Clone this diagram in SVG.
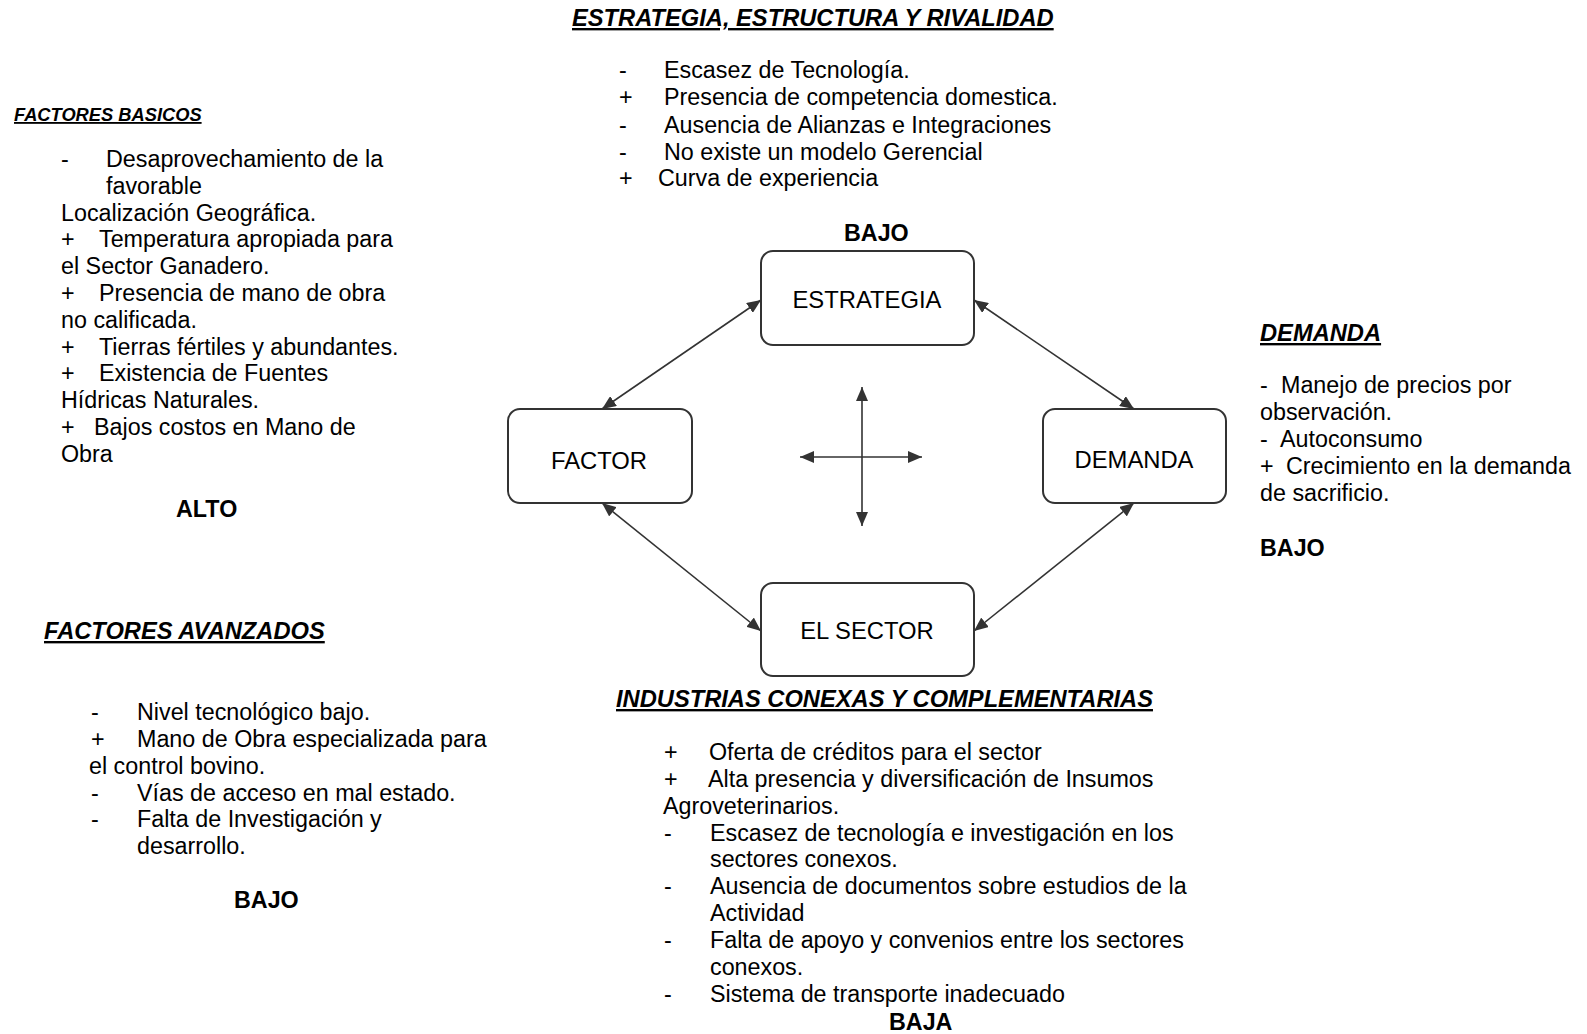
<svg xmlns="http://www.w3.org/2000/svg" width="1587" height="1034" viewBox="0 0 1587 1034">
  <style>
    text { font-family: "Liberation Sans", Arial, sans-serif; fill: #000; }
    .t { font-size: 23.3px; }
    .h { font-size: 23.7px; font-weight: bold; font-style: italic; text-decoration: underline; }
    .hs { font-size: 18.3px; font-weight: bold; font-style: italic; text-decoration: underline; }
    .b { font-size: 23.3px; font-weight: bold; }
    .box { fill: #fff; stroke: #333; stroke-width: 2; }
    .lbl { font-size: 23.8px; text-anchor: middle; }
    .con { stroke: #333; stroke-width: 1.6; fill: none; marker-start: url(#arr); marker-end: url(#arr); }
  </style>
  <defs>
    <marker id="arr" viewBox="0 0 14 12" refX="14" refY="6" markerWidth="14" markerHeight="12" markerUnits="userSpaceOnUse" orient="auto-start-reverse">
      <path d="M0,0 L14,6 L0,12 z" fill="#333"/>
    </marker>
  </defs>

  <rect width="1587" height="1034" fill="#fff"/>

  <!-- connectors -->
  <g id="connectors">
    <line class="con" x1="761" y1="300" x2="602" y2="409"/>
    <line class="con" x1="974" y1="300" x2="1134" y2="409"/>
    <line class="con" x1="602" y1="503" x2="761" y2="631"/>
    <line class="con" x1="1134" y1="503" x2="974" y2="631"/>
    <line class="con" x1="862" y1="387" x2="862" y2="526"/>
    <line class="con" x1="800" y1="457" x2="922" y2="457"/>
  </g>

  <!-- nodes -->
  <g id="node-estrategia">
    <rect class="box" x="761" y="251" width="213" height="94" rx="12"/>
    <text class="lbl" x="867" y="308">ESTRATEGIA</text>
  </g>
  <g id="node-factor">
    <rect class="box" x="508" y="409" width="184" height="94" rx="12"/>
    <text class="lbl" x="599" y="469">FACTOR</text>
  </g>
  <g id="node-demanda">
    <rect class="box" x="1043" y="409" width="183" height="94" rx="12"/>
    <text class="lbl" x="1134" y="468">DEMANDA</text>
  </g>
  <g id="node-sector">
    <rect class="box" x="761" y="583" width="213" height="93" rx="12"/>
    <text class="lbl" x="867" y="639">EL SECTOR</text>
  </g>

  <!-- Estrategia, estructura y rivalidad -->
  <g id="note-estrategia">
    <text class="h" x="572" y="26">ESTRATEGIA, ESTRUCTURA Y RIVALIDAD</text>
    <text class="t" x="619" y="78">-</text><text class="t" x="664" y="78">Escasez de Tecnología.</text>
    <text class="t" x="619" y="105">+</text><text class="t" x="664" y="105">Presencia de competencia domestica.</text>
    <text class="t" x="619" y="133">-</text><text class="t" x="664" y="133">Ausencia de Alianzas e Integraciones</text>
    <text class="t" x="619" y="160">-</text><text class="t" x="664" y="160">No existe un modelo Gerencial</text>
    <text class="t" x="619" y="186">+</text><text class="t" x="658" y="186">Curva de experiencia</text>
    <text class="b" x="844" y="241">BAJO</text>
  </g>

  <!-- Factores basicos -->
  <g id="note-basicos">
    <text class="hs" x="14" y="121">FACTORES BASICOS</text>
    <text class="t" x="61" y="167">-</text><text class="t" x="106" y="167">Desaprovechamiento de la</text>
    <text class="t" x="106" y="194">favorable</text>
    <text class="t" x="61" y="221">Localización Geográfica.</text>
    <text class="t" x="61" y="247">+</text><text class="t" x="99" y="247">Temperatura apropiada para</text>
    <text class="t" x="61" y="274">el Sector Ganadero.</text>
    <text class="t" x="61" y="301">+</text><text class="t" x="99" y="301">Presencia de mano de obra</text>
    <text class="t" x="61" y="328">no calificada.</text>
    <text class="t" x="61" y="355">+</text><text class="t" x="99" y="355">Tierras fértiles y abundantes.</text>
    <text class="t" x="61" y="381">+</text><text class="t" x="99" y="381">Existencia de Fuentes</text>
    <text class="t" x="61" y="408">Hídricas Naturales.</text>
    <text class="t" x="61" y="435">+</text><text class="t" x="94" y="435">Bajos costos en Mano de</text>
    <text class="t" x="61" y="462">Obra</text>
    <text class="b" x="176" y="517">ALTO</text>
  </g>

  <!-- Demanda -->
  <g id="note-demanda">
    <text class="h" x="1260" y="341">DEMANDA</text>
    <text class="t" x="1260" y="393">-</text><text class="t" x="1281" y="393">Manejo de precios por</text>
    <text class="t" x="1260" y="420">observación.</text>
    <text class="t" x="1260" y="447">-</text><text class="t" x="1280" y="447">Autoconsumo</text>
    <text class="t" x="1260" y="474">+</text><text class="t" x="1286" y="474">Crecimiento en la demanda</text>
    <text class="t" x="1260" y="501">de sacrificio.</text>
    <text class="b" x="1260" y="556">BAJO</text>
  </g>

  <!-- Factores avanzados -->
  <g id="note-avanzados">
    <text class="h" x="44" y="639">FACTORES AVANZADOS</text>
    <text class="t" x="91" y="720">-</text><text class="t" x="137" y="720">Nivel tecnológico bajo.</text>
    <text class="t" x="91" y="747">+</text><text class="t" x="137" y="747">Mano de Obra especializada para</text>
    <text class="t" x="89" y="774">el control bovino.</text>
    <text class="t" x="91" y="801">-</text><text class="t" x="137" y="801">Vías de acceso en mal estado.</text>
    <text class="t" x="91" y="827">-</text><text class="t" x="137" y="827">Falta de Investigación y</text>
    <text class="t" x="137" y="854">desarrollo.</text>
    <text class="b" x="234" y="908">BAJO</text>
  </g>

  <!-- Industrias conexas y complementarias -->
  <g id="note-industrias">
    <text class="h" x="616" y="707">INDUSTRIAS CONEXAS Y COMPLEMENTARIAS</text>
    <text class="t" x="664" y="760">+</text><text class="t" x="709" y="760">Oferta de créditos para el sector</text>
    <text class="t" x="664" y="787">+</text><text class="t" x="708" y="787">Alta presencia y diversificación de Insumos</text>
    <text class="t" x="663" y="814">Agroveterinarios.</text>
    <text class="t" x="664" y="841">-</text><text class="t" x="710" y="841">Escasez de tecnología e investigación en los</text>
    <text class="t" x="710" y="867">sectores conexos.</text>
    <text class="t" x="664" y="894">-</text><text class="t" x="710" y="894">Ausencia de documentos sobre estudios de la</text>
    <text class="t" x="710" y="921">Actividad</text>
    <text class="t" x="664" y="948">-</text><text class="t" x="710" y="948">Falta de apoyo y convenios entre los sectores</text>
    <text class="t" x="710" y="975">conexos.</text>
    <text class="t" x="664" y="1002">-</text><text class="t" x="710" y="1002">Sistema de transporte inadecuado</text>
    <text class="b" x="889" y="1030">BAJA</text>
  </g>
</svg>
